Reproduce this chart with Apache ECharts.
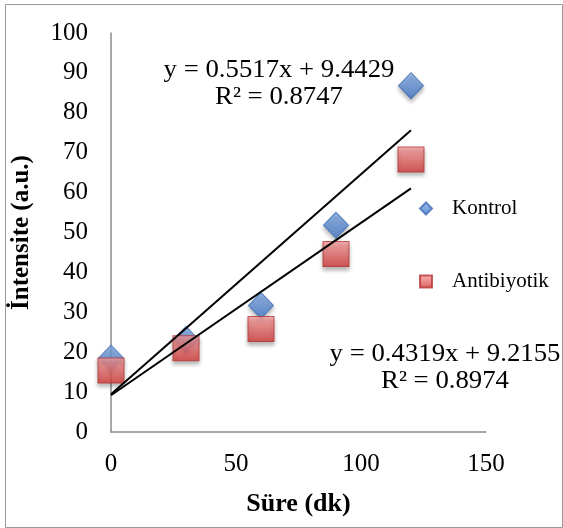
<!DOCTYPE html>
<html><head><meta charset="utf-8">
<script src="https://cdn.jsdelivr.net/npm/echarts@6/dist/echarts.min.js"></script>
<style>html,body{margin:0;padding:0;background:#fff}#c{width:563px;height:528px}</style>
</head><body><div id="c"></div>
<script>
const xValues = [0, 30, 60, 90, 120];
const kontrol = [18.5, 23.2, 31.7, 51.8, 86.8];
const antibiyotik = [15.4, 21, 25.8, 44.6, 68.3];
const seriesNames = ['Kontrol', 'Antibiyotik'];
const trendSlope = [0.5517, 0.4319];
const trendIntercept = [9.4429, 9.2155];
const trendRange = [0, 120];
const eqTexts = ['y = 0.5517x + 9.4429', 'R² = 0.8747', 'y = 0.4319x + 9.2155', 'R² = 0.8974'];
const xTicks = [0, 150, 50];
const yTicks = [0, 100, 10];

const FONT = '"Liberation Serif", "Times New Roman", serif';
const chart = echarts.init(document.getElementById('c'));
const blueGrad = new echarts.graphic.LinearGradient(0,0,0,1,[{offset:0,color:'#86b0ec'},{offset:1,color:'#3f74c4'}]);
const redGrad = new echarts.graphic.LinearGradient(0,0,0,1,[{offset:0,color:'#f9a0a0'},{offset:1,color:'#d13a38'}]);
function pairs(vals){ return xValues.map((x,i)=>[x, vals[i]]); }
function trend(i){ return trendRange.map(x=>[x, trendIntercept[i] + trendSlope[i]*x]); }
function eq(text, x, y){
  return {type:'text', x:x, y:y, scaleX:1.07, style:{text:text, font:'25px '+FONT, fill:'#000', textAlign:'center', textVerticalAlign:'middle'}};
}

chart.setOption({
  animation:false,
  grid:{left:111, right:77, top:33, bottom:96, containLabel:false},
  xAxis:{type:'value', min:xTicks[0], max:xTicks[1], interval:xTicks[2],
    axisLine:{lineStyle:{color:'#8c8c8c', width:1.5}}, axisTick:{show:false}, splitLine:{show:false},
    axisLabel:{color:'#000', fontFamily:FONT, fontSize:25, margin:20},
    name:'Süre (dk)', nameLocation:'middle', nameGap:59,
    nameTextStyle:{color:'#000', fontFamily:FONT, fontSize:26, fontWeight:'bold'}},
  yAxis:{type:'value', min:yTicks[0], max:yTicks[1], interval:yTicks[2],
    axisLine:{show:true, lineStyle:{color:'#8c8c8c', width:1.5}}, axisTick:{show:false}, splitLine:{show:false},
    axisLabel:{color:'#000', fontFamily:FONT, fontSize:25, margin:23},
    name:'İntensite (a.u.)', nameLocation:'middle', nameGap:77, nameRotate:90,
    nameTextStyle:{color:'#000', fontFamily:FONT, fontSize:25, fontWeight:'bold'}},
  legend:{orient:'vertical', left:414, top:193, itemGap:52, itemWidth:12, itemHeight:12,
    data:[{name:seriesNames[0], icon:'diamond'},{name:seriesNames[1], icon:'rect'}],
    textStyle:{color:'#000', fontFamily:FONT, fontSize:21, padding:[0,0,0,15]}},
  graphic:[
    {type:'rect', left:3, top:2, shape:{width:557, height:523}, style:{fill:'none', stroke:'#999', lineWidth:1}, silent:true},
    eq(eqTexts[0], 279, 70),
    eq(eqTexts[1], 279, 97),
    eq(eqTexts[2], 445, 354),
    eq(eqTexts[3], 445, 381)
  ],
  series:[
    {name:seriesNames[0], type:'scatter', symbol:'diamond', symbolSize:[25,26], data:pairs(kontrol), z:2,
      itemStyle:{color:blueGrad, borderColor:'#3f6db5', borderWidth:1, shadowBlur:4, shadowColor:'rgba(0,0,0,0.35)', shadowOffsetY:3}},
    {name:seriesNames[1], type:'scatter', symbol:'rect', symbolSize:[26,25], data:pairs(antibiyotik), z:3,
      itemStyle:{color:redGrad, borderColor:'#b53533', borderWidth:1, shadowBlur:4, shadowColor:'rgba(0,0,0,0.35)', shadowOffsetY:3}},
    {name:'trend0', type:'line', data:trend(0), symbol:'none', z:5, lineStyle:{color:'#000', width:2}},
    {name:'trend1', type:'line', data:trend(1), symbol:'none', z:5, lineStyle:{color:'#000', width:2}}
  ]
});
</script></body></html>
